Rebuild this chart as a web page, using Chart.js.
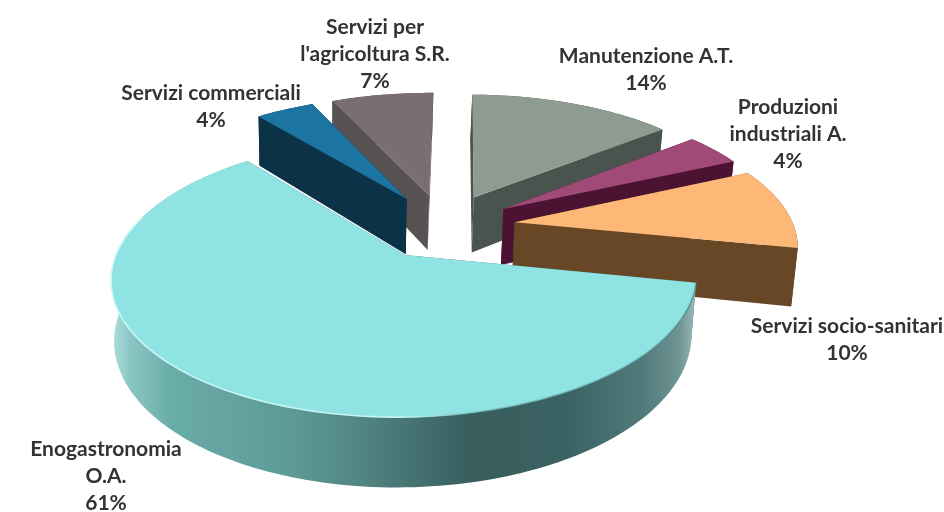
<!DOCTYPE html>
<html>
<head>
<meta charset="utf-8">
<script src="https://cdn.jsdelivr.net/npm/chart.js@4"></script>
<style>
html,body{margin:0;padding:0;background:#fff;}
#wrap{width:944px;height:512px;}
canvas{filter:blur(0.7px);}
</style>
</head>
<body>
<div id="wrap"><canvas id="c" width="944" height="512"></canvas></div>
<script>
const categories = ['Manutenzione A.T.','Produzioni industriali A.','Servizi socio-sanitari','Enogastronomia O.A.','Servizi commerciali',"Servizi per l'agricoltura S.R."];
const values = [14,4,10,61,4,7];
const topColors = ['#8e9b91','#a04a78','#fdb877','#8fe3e2','#1c75a0','#7b6e70'];
const wallColors = ['#4a544e','#4c1232','#674726','#3f6a6a','#0c3248','#585253'];
const labelLines = [['Manutenzione A.T.'],['Produzioni','industriali A.'],['Servizi socio-sanitari'],['Enogastronomia','O.A.'],['Servizi commerciali'],['Servizi per',"l'agricoltura S.R."]];
const labelCentres = [[646,56],[788,107],[847,326],[106,449],[211,93],[375,27]];
const paintOrder = [5,0,4,1,2,3];
const lineStep = 27, labelFont = '700 21px Lato', labelColor = '#333333';
const view = {distance:1800, tilt:0.455, depth:57, converge:0.014, vanishShift:116};

function project(el, wx, wy, z){
  const s = view.distance/(view.distance-wy), sx = wx*s;
  return [el.x + sx - view.converge*z*(sx+view.vanishShift), el.y + wy*view.tilt*s + view.depth*z*s];
}
function slicePoints(el){
  const mid=(el.startAngle+el.endAngle)/2, off=el.options.offset||0;
  const ax=off*Math.cos(mid), ay=off*Math.sin(mid), pts=[], n=Math.ceil((el.endAngle-el.startAngle)*40);
  for(let i=0;i<=n;i++){
    const a=el.startAngle+(el.endAngle-el.startAngle)*i/n;
    pts.push([ax+el.outerRadius*Math.cos(a), ay+el.outerRadius*Math.sin(a), a]);
  }
  return {ax,ay,pts};
}
function fillPoly(ctx,poly,fill){
  ctx.beginPath();
  poly.forEach((p,i)=>i?ctx.lineTo(p[0],p[1]):ctx.moveTo(p[0],p[1]));
  ctx.closePath();
  ctx.fillStyle=fill; ctx.fill();
}
function mainWallGradient(ctx){
  const g=ctx.createLinearGradient(113,0,697,0);
  [[0,'#a8dedb'],[0.03,'#8ac6c3'],[0.1,'#69aca8'],[0.3,'#5e9b98'],[0.45,'#4e807e'],[0.62,'#375d5d'],[0.78,'#3c6363'],[0.9,'#4f7878'],[0.97,'#6f9494'],[1,'#a0bcbc']]
    .forEach(s=>g.addColorStop(s[0],s[1]));
  return g;
}
class Pie3DController extends Chart.PieController {
  static id='pie3d';
  draw(){
    const ctx=this.chart.ctx, arcs=this.getMeta().data;
    paintOrder.forEach(i=>{
      const el=arcs[i], {ax,ay,pts}=slicePoints(el), wall=wallColors[i], last=pts[pts.length-1], first=pts[0];
      [first,last].forEach(p=>fillPoly(ctx,[project(el,ax,ay,0),project(el,p[0],p[1],0),project(el,p[0],p[1],1),project(el,ax,ay,1)],wall));
      const outer=pts.map(p=>project(el,p[0],p[1],0)).concat(pts.slice().reverse().map(p=>project(el,p[0],p[1],1)));
      fillPoly(ctx,outer,values[i]===Math.max(...values)?mainWallGradient(ctx):wall);
      const top=[project(el,ax,ay,0)].concat(pts.map(p=>project(el,p[0],p[1],0)));
      fillPoly(ctx,top,el.options.backgroundColor);
      if(values[i]===Math.max(...values)){
        const g=ctx.createLinearGradient(113,0,697,0);
        g.addColorStop(0,'#c8f8f5');g.addColorStop(0.5,'#c0f5f2');g.addColorStop(0.62,'rgba(110,190,186,0.7)');g.addColorStop(1,'rgba(70,130,130,0.6)');
        ctx.beginPath();
        pts.filter(p=>p[1]>-20).forEach((p,k)=>{const q=project(el,p[0],p[1],0);k?ctx.lineTo(q[0],q[1]):ctx.moveTo(q[0],q[1]);});
        ctx.strokeStyle=g;ctx.lineWidth=1.6;ctx.stroke();
      }
    });
  }
}
Chart.register(Pie3DController);
const labelPlugin={id:'sliceLabels',afterDraw(chart){
  const ctx=chart.ctx;
  ctx.save();
  ctx.font=labelFont;ctx.fillStyle=labelColor;ctx.textAlign='center';ctx.textBaseline='middle';
  labelLines.forEach((lines,i)=>{
    const c=labelCentres[i];
    lines.concat([values[i]+'%']).forEach((t,k)=>ctx.fillText(t,c[0],c[1]+k*lineStep));
  });
  ctx.restore();
}};
new Chart(document.getElementById('c'),{
  type:'pie3d',
  data:{labels:categories,datasets:[{data:values,backgroundColor:topColors,borderWidth:0,offset:72}]},
  options:{
    responsive:false,animation:false,radius:279,rotation:0.6,
    layout:{padding:{left:0,right:57,top:0,bottom:60}},
    plugins:{legend:{display:false},tooltip:{enabled:false}}
  },
  plugins:[labelPlugin]
});
</script>
</body>
</html>
